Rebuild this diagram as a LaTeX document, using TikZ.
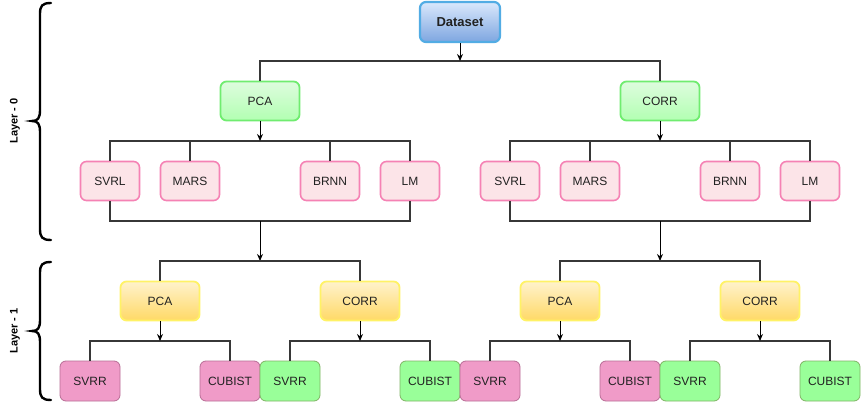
\documentclass[tikz,border=0pt]{standalone}
\usepackage{fontspec}
\setmainfont{Liberation Sans}
\usetikzlibrary{arrows.meta}
\definecolor{dsstroke}{RGB}{82,172,228}
\definecolor{dstop}{RGB}{218,232,252}
\definecolor{dsbot}{RGB}{126,166,224}
\definecolor{grstroke}{RGB}{112,236,112}
\definecolor{grtop}{RGB}{222,252,222}
\definecolor{grbot}{RGB}{178,255,178}
\definecolor{pkstroke}{RGB}{245,130,180}
\definecolor{pkfill}{RGB}{252,228,232}
\definecolor{ylstroke}{RGB}{255,242,102}
\definecolor{yltop}{RGB}{255,242,204}
\definecolor{ylbot}{RGB}{255,217,102}
\definecolor{mpfill}{RGB}{240,155,200}
\definecolor{mpstroke}{RGB}{184,110,150}
\definecolor{mgfill}{RGB}{153,255,153}
\definecolor{mgstroke}{RGB}{130,179,102}
\definecolor{txt}{RGB}{34,34,34}
\definecolor{busc}{RGB}{55,55,55}
\tikzset{
  box/.style={rectangle, rounded corners=6pt, inner sep=0pt, text=txt,
    font=\fontsize{12}{14}\selectfont, anchor=center},
  dsbox/.style={box, draw=dsstroke, line width=2.2pt, top color=dstop, bottom color=dsbot,
    minimum width=80pt, minimum height=40pt, font=\fontsize{13}{15}\selectfont\bfseries},
  grbox/.style={box, draw=grstroke, line width=1.8pt, top color=grtop, bottom color=grbot,
    minimum width=79pt, minimum height=39pt},
  ylbox/.style={box, draw=ylstroke, line width=1.8pt, top color=yltop, bottom color=ylbot,
    minimum width=79pt, minimum height=39pt},
  pkbox/.style={box, draw=pkstroke, line width=1.6pt, fill=pkfill,
    minimum width=59pt, minimum height=39pt},
  mpbox/.style={box, draw=mpstroke, line width=0.8pt, fill=mpfill,
    minimum width=60pt, minimum height=40pt},
  mgbox/.style={box, draw=mgstroke, line width=0.8pt, fill=mgfill,
    minimum width=60pt, minimum height=40pt},
  bus/.style={draw=busc, line width=1.8pt},
  arr/.style={draw=black, line width=1pt, -{Stealth[length=7pt,width=6pt]}},
  brc/.style={draw=black, line width=2.4pt, line cap=round},
  lay/.style={font=\fontsize{11}{13}\selectfont\bfseries, rotate=90, text=black}
}
\begin{document}
\begin{tikzpicture}[x=1pt,y=-1pt]
\useasboundingbox[fill=white] (0,0) rectangle (861,403);

% braces
\draw[brc] (51,3) .. controls (42,3) and (40,6) .. (40,14) -- (40,110)
  .. controls (40,118) and (38,121) .. (32,121)
  .. controls (38,121) and (40,124) .. (40,132) -- (40,229)
  .. controls (40,237) and (42,240) .. (51,240);
\draw[brc] (51,262) .. controls (42,262) and (40,265) .. (40,273) -- (40,320)
  .. controls (40,328) and (38,331) .. (32,331)
  .. controls (38,331) and (40,334) .. (40,342) -- (40,389)
  .. controls (40,397) and (42,400) .. (51,400);
\node[lay] (L0) at (15,121) {Layer - 0};
\node[lay] (L1) at (15,331) {Layer - 1};

% top
\node[dsbox] (DS) at (460,22) {Dataset};
\node[grbox] (PCAa) at (260,101) {PCA};
\node[grbox] (CORRa) at (660,101) {CORR};

% layer 0 models left
\node[pkbox] (SVRLa) at (110,181) {SVRL};
\node[pkbox] (MARSa) at (190,181) {MARS};
\node[pkbox] (BRNNa) at (330,181) {BRNN};
\node[pkbox] (LMa) at (410,181) {LM};
% layer 0 models right
\node[pkbox] (SVRLb) at (510,181) {SVRL};
\node[pkbox] (MARSb) at (590,181) {MARS};
\node[pkbox] (BRNNb) at (730,181) {BRNN};
\node[pkbox] (LMb) at (810,181) {LM};

% layer 1 selectors
\node[ylbox] (PCAb) at (160,301) {PCA};
\node[ylbox] (CORRb) at (360,301) {CORR};
\node[ylbox] (PCAc) at (560,301) {PCA};
\node[ylbox] (CORRc) at (760,301) {CORR};

% layer 1 models
\node[mpbox] (SV1) at (90,381) {SVRR};
\node[mpbox] (CU1) at (230,381) {CUBIST};
\node[mgbox] (SV2) at (290,381) {SVRR};
\node[mgbox] (CU2) at (430,381) {CUBIST};
\node[mpbox] (SV3) at (490,381) {SVRR};
\node[mpbox] (CU3) at (630,381) {CUBIST};
\node[mgbox] (SV4) at (690,381) {SVRR};
\node[mgbox] (CU4) at (830,381) {CUBIST};

% junction coordinates
\coordinate (J0) at (460,61);
\coordinate (Ja) at (260,141);
\coordinate (Jb) at (660,141);
\coordinate (Ka) at (260,221);
\coordinate (Kb) at (660,221);
\coordinate (Ma) at (260,261);
\coordinate (Mb) at (660,261);
\coordinate (N1) at (160,341);
\coordinate (N2) at (360,341);
\coordinate (N3) at (560,341);
\coordinate (N4) at (760,341);

% top buses
\draw[bus] (PCAa.north) -- (PCAa.north |- J0) -- (CORRa.north |- J0) -- (CORRa.north);
\draw[arr] (DS.south) -- (J0);

% layer 0 left
\draw[bus] (SVRLa.north) -- (SVRLa.north |- Ja) -- (LMa.north |- Ja) -- (LMa.north);
\draw[bus] (MARSa.north) -- (MARSa.north |- Ja);
\draw[bus] (BRNNa.north) -- (BRNNa.north |- Ja);
\draw[arr] (PCAa.south) -- (Ja);
\draw[bus] (SVRLa.south) -- (SVRLa.south |- Ka) -- (LMa.south |- Ka) -- (LMa.south);
\draw[arr] (Ka) -- (Ma);

% layer 0 right
\draw[bus] (SVRLb.north) -- (SVRLb.north |- Jb) -- (LMb.north |- Jb) -- (LMb.north);
\draw[bus] (MARSb.north) -- (MARSb.north |- Jb);
\draw[bus] (BRNNb.north) -- (BRNNb.north |- Jb);
\draw[arr] (CORRa.south) -- (Jb);
\draw[bus] (SVRLb.south) -- (SVRLb.south |- Kb) -- (LMb.south |- Kb) -- (LMb.south);
\draw[arr] (Kb) -- (Mb);

% layer 1 buses
\draw[bus] (PCAb.north) -- (PCAb.north |- Ma) -- (CORRb.north |- Ma) -- (CORRb.north);
\draw[bus] (PCAc.north) -- (PCAc.north |- Mb) -- (CORRc.north |- Mb) -- (CORRc.north);

\draw[bus] (SV1.north) -- (SV1.north |- N1) -- (CU1.north |- N1) -- (CU1.north);
\draw[arr] (PCAb.south) -- (N1);
\draw[bus] (SV2.north) -- (SV2.north |- N2) -- (CU2.north |- N2) -- (CU2.north);
\draw[arr] (CORRb.south) -- (N2);
\draw[bus] (SV3.north) -- (SV3.north |- N3) -- (CU3.north |- N3) -- (CU3.north);
\draw[arr] (PCAc.south) -- (N3);
\draw[bus] (SV4.north) -- (SV4.north |- N4) -- (CU4.north |- N4) -- (CU4.north);
\draw[arr] (CORRc.south) -- (N4);
\end{tikzpicture}
\end{document}
